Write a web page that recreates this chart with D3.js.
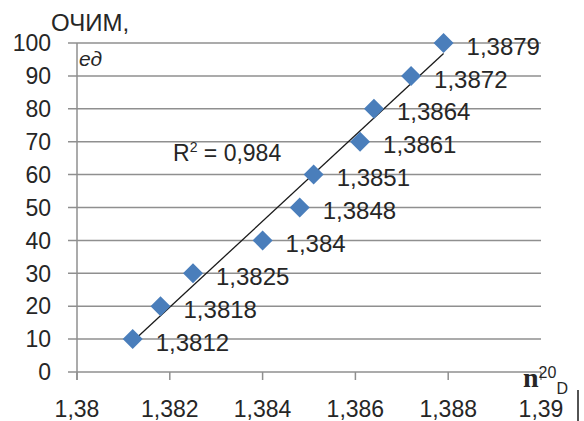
<!DOCTYPE html>
<html>
<head>
<meta charset="utf-8">
<script src="https://cdn.jsdelivr.net/npm/d3@7/dist/d3.min.js"></script>
<style>
  html, body { margin: 0; padding: 0; background: #fff; }
  svg { display: block; }
  text { font-family: "Liberation Sans", Arial, sans-serif; fill: #262626; }
</style>
</head>
<body>
<svg id="chart" width="584" height="421"></svg>
<script>
// Refractive index n20D against ОЧИМ (units)
const refractiveIndex = [1.3812, 1.3818, 1.3825, 1.384, 1.3848, 1.3851, 1.3861, 1.3864, 1.3872, 1.3879];
const ochim = [10, 20, 30, 40, 50, 60, 70, 80, 90, 100];
const xTicks = [1.38, 1.382, 1.384, 1.386, 1.388, 1.39];
const yTicks = [0, 10, 20, 30, 40, 50, 60, 70, 80, 90, 100];

const locale = d3.formatLocale({ decimal: ",", thousands: " ", grouping: [3], currency: ["", ""] });
const fmtTick = locale.format(".3~f");
const fmtPoint = locale.format(".5~f");
const fmtR2 = locale.format(".3f");

const svg = d3.select("#chart");
const plot = { left: 77, right: 541, top: 43, bottom: 372 };

const x = d3.scaleLinear().domain([1.38, 1.39]).range([plot.left, plot.right]);
const y = d3.scaleLinear().domain([0, 100]).range([plot.bottom, plot.top]);

const gridColor = "#8f8f8f";

// horizontal gridlines, extended left as tick marks
svg.append("g").selectAll("line").data(yTicks).join("line")
  .attr("x1", plot.left - 9).attr("x2", plot.right)
  .attr("y1", d => y(d)).attr("y2", d => y(d))
  .attr("stroke", gridColor).attr("stroke-width", 1.5);

// vertical axis line
svg.append("line")
  .attr("x1", plot.left).attr("x2", plot.left)
  .attr("y1", plot.top).attr("y2", plot.bottom + 8)
  .attr("stroke", gridColor).attr("stroke-width", 1.5);

// x tick marks
svg.append("g").selectAll("line").data(xTicks).join("line")
  .attr("x1", d => x(d)).attr("x2", d => x(d))
  .attr("y1", plot.bottom).attr("y2", plot.bottom + 8)
  .attr("stroke", gridColor).attr("stroke-width", 1.5);

// y tick labels
svg.append("g").selectAll("text").data(yTicks).join("text")
  .attr("x", plot.left - 26).attr("y", d => y(d))
  .attr("dy", "0.36em")
  .attr("text-anchor", "end")
  .attr("font-size", 23)
  .text(d => d);

// x tick labels
svg.append("g").selectAll("text").data(xTicks).join("text")
  .attr("x", d => x(d)).attr("y", 417)
  .attr("text-anchor", "middle")
  .attr("font-size", 23)
  .text(d => fmtTick(d));

// linear trendline (least squares) over the data range
const n = refractiveIndex.length;
const mx = d3.mean(refractiveIndex), my = d3.mean(ochim);
let sxy = 0, sxx = 0, syy = 0;
for (let i = 0; i < n; i++) {
  const dx = refractiveIndex[i] - mx, dy = ochim[i] - my;
  sxy += dx * dy; sxx += dx * dx; syy += dy * dy;
}
const slope = sxy / sxx;
const intercept = my - slope * mx;
const r2 = (sxy * sxy) / (sxx * syy);
const [xMin, xMax] = d3.extent(refractiveIndex);

svg.append("line")
  .attr("x1", x(xMin)).attr("y1", y(slope * xMin + intercept))
  .attr("x2", x(xMax)).attr("y2", y(slope * xMax + intercept))
  .attr("stroke", "#1a1a1a").attr("stroke-width", 1.3);

const points = refractiveIndex.map((v, i) => ({ x: v, y: ochim[i] }));

// diamond markers
svg.append("g").selectAll("path").data(points).join("path")
  .attr("transform", d => `translate(${x(d.x)},${y(d.y)})`)
  .attr("d", "M0,-10L10,0L0,10L-10,0Z")
  .attr("fill", "#4a7ebb");

// point labels
svg.append("g").selectAll("text").data(points).join("text")
  .attr("x", d => x(d.x) + 23).attr("y", d => y(d.y) + 3)
  .attr("dy", "0.36em")
  .attr("font-size", 24)
  .text(d => fmtPoint(d.x));

// R² annotation
const r2Text = svg.append("text")
  .attr("x", 173).attr("y", 161)
  .attr("font-size", 23);
r2Text.append("tspan").text("R");
r2Text.append("tspan").attr("font-size", 14).attr("dy", -9).text("2");
r2Text.append("tspan").attr("dy", 9).text(" = " + fmtR2(r2));

// y axis title
svg.append("text").attr("x", 51).attr("y", 31).attr("font-size", 24).text("ОЧИМ,");
svg.append("text").attr("x", 79).attr("y", 66).attr("font-size", 21)
  .attr("font-style", "italic").text("ед");

// x axis title n²⁰_D
const xt = svg.append("text").attr("x", 523).attr("y", 387)
  .style("font-family", "'Liberation Serif', 'Times New Roman', serif");
xt.append("tspan").attr("font-size", 28).attr("font-weight", "bold").text("n");
xt.append("tspan").attr("font-size", 16).attr("dy", -9)
  .style("font-family", "'Liberation Sans', Arial, sans-serif").text("20");
xt.append("tspan").attr("font-size", 16).attr("dy", 16)
  .style("font-family", "'Liberation Sans', Arial, sans-serif").text("D");

svg.append("line")
  .attr("x1", 578).attr("x2", 578).attr("y1", 390).attr("y2", 421)
  .attr("stroke", "#1a1a1a").attr("stroke-width", 1.5);
</script>
</body>
</html>
